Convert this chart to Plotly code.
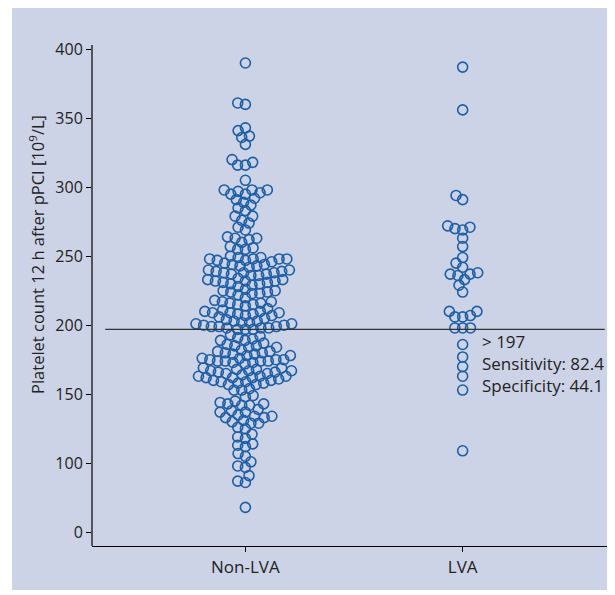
import math
import plotly.graph_objects as go

# ---------------- data ----------------
categories = ["Non-LVA", "LVA"]

non_lva = [
    390,
    361, 360,
    343, 341, 337, 336, 331,
    320, 318, 316, 316,
    305,
    298, 298, 298, 297, 296, 295, 295,
    292, 291, 289,
    287, 285, 283,
    279, 279, 276,
    274, 271, 269,
    264, 263, 263, 262, 260,
    257, 256, 255, 255,
    250, 249, 249, 248, 248, 248, 248, 247, 247, 246,
    245, 244, 244, 243, 243, 242,
    240, 240, 239, 239, 238, 238, 238, 237, 237, 236, 236,
    234, 233, 233, 232, 232, 232, 231, 231, 230, 230, 229, 228,
    226, 225, 225, 224, 224, 223, 223, 222, 220,
    218, 217, 217, 216, 216, 215, 215, 214, 212,
    211, 210, 210, 209, 209, 209, 208, 208, 207, 207, 206,
    205, 204, 203, 203, 202, 202, 201, 201, 200, 200, 199,
    199, 199, 198, 198, 198, 197, 197, 197,
    193, 192, 191, 190, 189, 189,
    187, 186, 185, 185, 184, 184,
    182, 181, 181, 180, 180, 179, 179, 178, 178,
    176, 176, 175, 175, 175, 174, 174, 174, 174, 173, 173, 172,
    169, 169, 168, 168, 167, 167, 167, 166, 166, 165, 165,
    164, 163, 163, 163, 162, 162, 162, 161,
    160, 160, 159, 159, 158, 158, 157, 157,
    154, 153, 153,
    149, 148,
    145, 144, 143, 143, 142, 142,
    139, 138, 137, 137,
    135, 134, 134, 133, 133,
    131, 130, 129, 129,
    126, 125,
    121, 119, 118,
    114, 113, 112,
    107, 105,
    101, 98, 97,
    91,
    87, 86,
    68,
]

lva = [
    387, 356, 294, 291, 272, 271, 270, 269, 263, 257, 249, 245, 242, 238,
    237, 237, 236, 233, 229, 224, 210, 210, 207, 206, 206, 198, 198, 198,
    186, 177, 170, 163, 153, 109,
]

threshold = 197
annotation_lines = ["> 197", "Sensitivity: 82.4", "Specificity: 44.1"]
annotation_y = [188, 172, 156]

y_tick_vals = [50, 100, 150, 200, 250, 300, 350, 400]
y_tick_text = ["0", "100", "150", "200", "250", "300", "350", "400"]
y_title = "Platelet count 12 h after pPCI [10<sup>9</sup>/L]"

# ---------------- styling / geometry ----------------
# the page adds an 8px body margin, so the figure is drawn 8px smaller
OFF = 8
W, H = 615 - OFF, 595 - OFF
M_L, M_R, M_T, M_B = 92 - OFF, 10 - OFF, 34 - OFF, 49
PLOT_W = W - M_L - M_R
PLOT_H = H - M_T - M_B
X_RANGE = [-0.706, 1.692]
Y_RANGE = [40, 411]
PX_PER_X = PLOT_W / (X_RANGE[1] - X_RANGE[0])
PX_PER_Y = PLOT_H / (Y_RANGE[1] - Y_RANGE[0])

MARK = "#1d5ea6"
BAND = "#cdd3e7"
FONT = "Open Sans"
D_PX = 7.8


def swarm(values):
    order = sorted(range(len(values)), key=lambda i: values[i])
    placed = []
    offs = [0.0] * len(values)
    for i in order:
        y = values[i] * PX_PER_Y
        near = [(px, py) for px, py in placed if abs(py - y) < D_PX]
        cands = [0.0]
        for px, py in near:
            dx = math.sqrt(D_PX ** 2 - (py - y) ** 2)
            cands += [px + dx, px - dx]
        cands.sort(key=lambda c: (abs(c), c))
        for c in cands:
            if all((c - px) ** 2 + (y - py) ** 2 >= D_PX ** 2 - 1e-6 for px, py in near):
                offs[i] = c
                placed.append((c, y))
                break
    return [o / PX_PER_X for o in offs]


fig = go.Figure()
for idx, vals in enumerate([non_lva, lva]):
    offs = swarm(vals)
    fig.add_trace(go.Scatter(
        x=[idx + o for o in offs], y=vals, mode="markers",
        marker=dict(symbol="circle-open", size=10, color=MARK,
                    line=dict(width=1.6, color=MARK)),
        showlegend=False, hoverinfo="y", name=categories[idx],
    ))

# background band (outer lavender frame), page px 12..615 x 8..590
fig.add_shape(type="rect", xref="paper", yref="paper",
              x0=(12 - OFF - M_L) / PLOT_W, x1=(W + 5 - M_L) / PLOT_W,
              y0=-((590 - OFF) - M_T - PLOT_H) / PLOT_H,
              y1=1 + (M_T - (8 - OFF)) / PLOT_H,
              fillcolor=BAND, line=dict(width=0), layer="below")

# threshold line
fig.add_shape(type="line", xref="x", yref="y",
              x0=-0.645, x1=1.654, y0=threshold, y1=threshold,
              line=dict(color="#333333", width=1.2))

# y axis line
fig.add_shape(type="line", xref="paper", yref="y",
              x0=0, x1=0, y0=Y_RANGE[0], y1=403,
              line=dict(color="#000000", width=1.2))

for t, yv in zip(annotation_lines, annotation_y):
    fig.add_annotation(x=1.08, y=yv, xref="x", yref="y",
                       text=t, showarrow=False, xanchor="left", yanchor="middle",
                       font=dict(family=FONT, size=17, color="#222222"))

fig.add_annotation(x=(37 - 92) / PLOT_W, y=(34 + PLOT_H - 255) / PLOT_H,
                   xref="paper", yref="paper", text=y_title, textangle=-90,
                   showarrow=False, xanchor="center", yanchor="middle",
                   font=dict(family=FONT, size=16.5, color="#222222"))

fig.update_layout(
    width=W, height=H,
    margin=dict(l=M_L, r=M_R, t=M_T, b=M_B),
    paper_bgcolor="white", plot_bgcolor="white",
    font=dict(family=FONT, size=16, color="#222222"),
    xaxis=dict(range=X_RANGE, tickvals=[0, 1], ticktext=categories,
               showgrid=False, zeroline=False, showline=True,
               linecolor="#000000", linewidth=1.2, ticks="outside",
               ticklen=5, tickcolor="#000000",
               tickfont=dict(family=FONT, size=17, color="#222222")),
    yaxis=dict(range=Y_RANGE, tickvals=y_tick_vals, ticktext=y_tick_text,
               showgrid=False, zeroline=False, showline=False,
               ticks="outside", ticklen=5, tickcolor="#000000",
               tickfont=dict(family=FONT, size=16, color="#222222")),
)

fig.write_html("out.html")
